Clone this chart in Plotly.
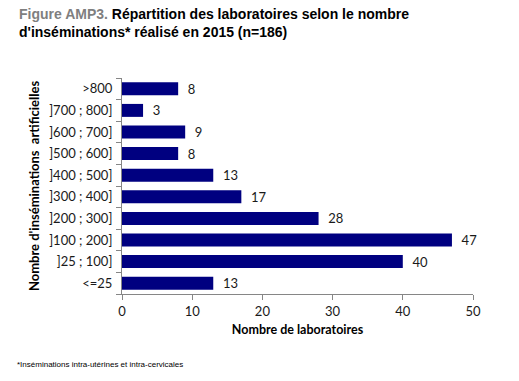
import plotly.graph_objects as go

categories = ["<=25", "]25 ; 100]", "]100 ; 200]", "]200 ; 300]", "]300 ; 400]",
              "]400 ; 500]", "]500 ; 600]", "]600 ; 700]", "]700 ; 800]", ">800"]
values = [13, 40, 47, 28, 17, 13, 8, 9, 3, 8]
x_ticks = [0, 10, 20, 30, 40, 50]

font_main = "Lato, 'Open Sans', sans-serif"

fig = go.Figure()
fig.add_trace(go.Bar(
    y=categories, x=values, orientation="h",
    marker=dict(color="#000080", line=dict(width=0)),
    width=0.6,
    text=["  " + str(v) for v in values], textposition="outside",
    textfont=dict(family=font_main, size=13, color="#1a1a1a"),
    constraintext="none",
    cliponaxis=False,
    hoverinfo="skip",
))

fig.update_layout(
    width=519, height=381,
    paper_bgcolor="white", plot_bgcolor="white",
    margin=dict(l=122, r=46, t=78, b=87, autoexpand=False),
    showlegend=False,
    bargap=0.4,
    xaxis=dict(
        range=[0, 50], tickvals=x_ticks, showgrid=False, zeroline=False,
        showline=True, linecolor="#868686", linewidth=1, automargin=False,
        ticks="outside", ticklen=5, tickcolor="#868686",
        tickfont=dict(family=font_main, size=13, color="#1a1a1a"),
        title=dict(text="<b>Nombre de laboratoires</b>",
                   font=dict(family=font_main, size=12.5, color="black"), standoff=7),
    ),
    yaxis=dict(
        categoryorder="array", categoryarray=categories,
        showgrid=False, zeroline=False, automargin=False,
        showline=True, linecolor="#868686", linewidth=1,
        ticks="outside", ticklen=5, tickcolor="#868686",
        tickson="boundaries", ticklabelstandoff=6,
        tickfont=dict(family=font_main, size=13, color="#1a1a1a"),
        title=dict(text="<b>Nombre d'inséminations  artificielles</b>",
                   font=dict(family=font_main, size=13, color="black"), standoff=6),
    ),
    annotations=[
        dict(text="<b><span style='color:#7f7f7f'>Figure AMP3.</span> Répartition des laboratoires selon le nombre<br>d'inséminations* réalisé en 2015 (n=186)</b>",
             xref="paper", yref="paper", x=-105/351, y=1 + 74/216, xanchor="left", yanchor="top",
             showarrow=False, align="left",
             font=dict(family="Liberation Sans, Arial, sans-serif", size=14, color="black"),
             ),
        dict(text="*Inséminations intra-utérines et intra-cervicales",
             xref="paper", yref="paper", x=-107/351, y=-64/216, xanchor="left", yanchor="top",
             showarrow=False, align="left",
             font=dict(family="Liberation Sans, Arial, sans-serif", size=8, color="black")),
    ],
)

fig.write_html("out.html", config={"displayModeBar": False},
               post_script="document.body.style.margin='0';")
